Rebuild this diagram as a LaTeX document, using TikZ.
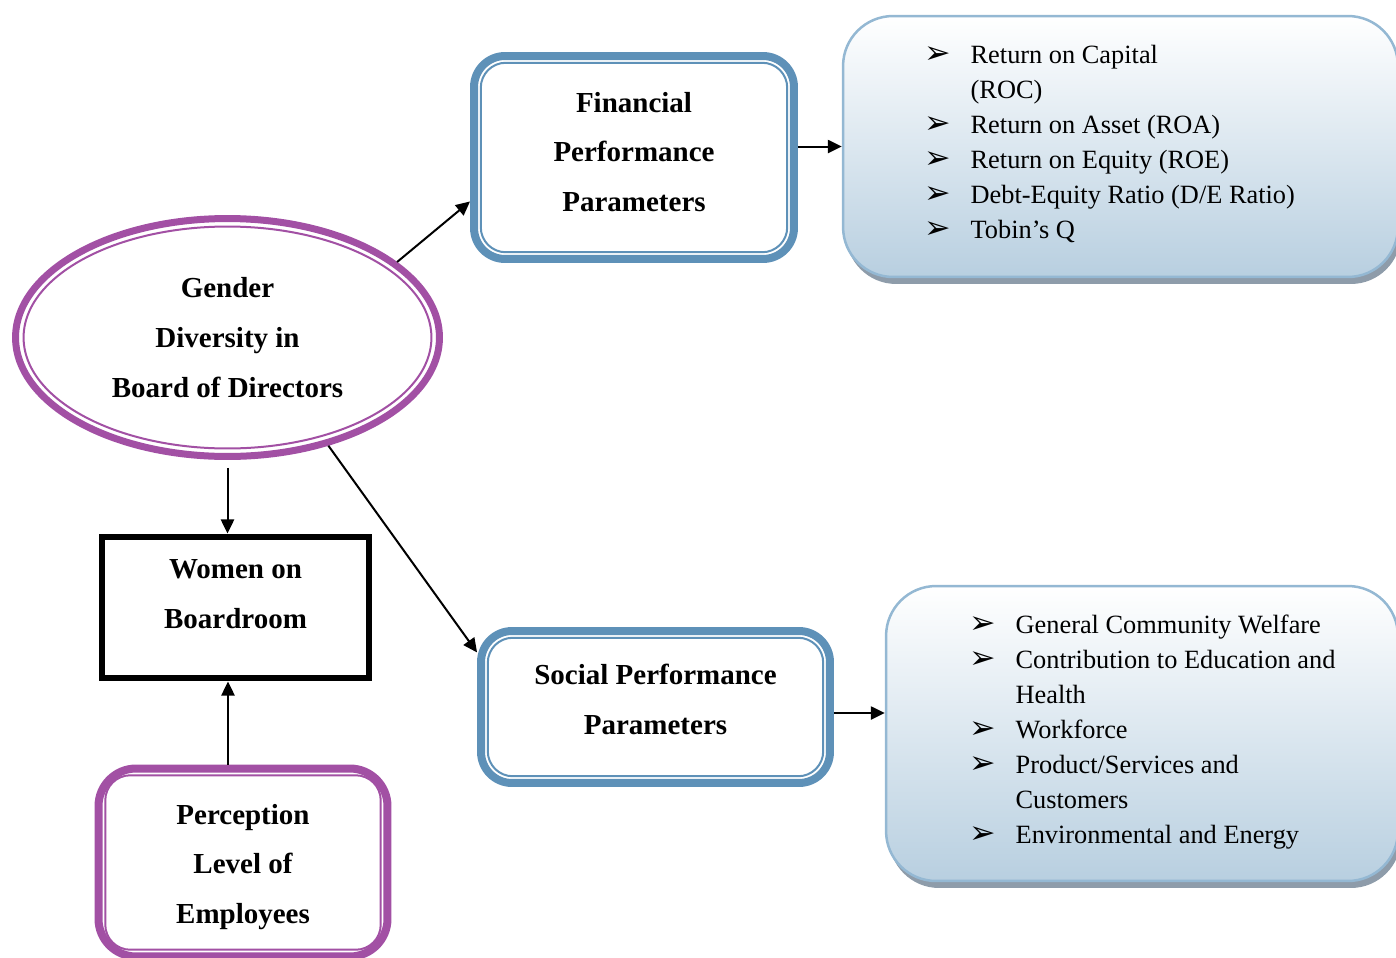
\documentclass[tikz,border=0pt]{standalone}
\usepackage{fontspec}
\setmainfont{Liberation Serif}
\newfontfamily\symfont{DejaVu Sans}
\usetikzlibrary{shapes.geometric,arrows.meta,shadows}

\definecolor{diversitypurple}{RGB}{162,80,164}
\definecolor{paramblue}{RGB}{94,145,184}
\definecolor{listedge}{RGB}{148,184,211}
\definecolor{listfill}{RGB}{184,207,224}
\definecolor{listshadow}{RGB}{142,156,170}

\newcommand{\bul}{\makebox[0.93cm][l]{\fontsize{18pt}{18pt}\symfont ➢}}
\newcommand{\cont}{\hspace*{0.93cm}}

\begin{document}
\begin{tikzpicture}[x=0.02cm, y=-0.02cm,
		heading/.style={font=\fontsize{16.5pt}{28.4pt}\selectfont\bfseries, align=center},
		board/.style={ellipse, draw=diversitypurple, line width=0.14cm, fill=white,
			minimum width=8.48cm, minimum height=4.76cm, inner sep=0pt, heading,
			path picture={\draw[diversitypurple, line width=0.04cm] (path picture bounding box.center) ellipse [x radius=4.08cm, y radius=2.22cm];}},
		roundbox/.style={rectangle, draw=#1, line width=0.16cm, rounded corners=0.62cm, fill=white,
			inner sep=0pt,
			path picture={\draw[#1, line width=0.04cm, rounded corners=0.5cm]
				([shift={(0.135cm,0.135cm)}]path picture bounding box.south west) rectangle
				([shift={(-0.135cm,-0.135cm)}]path picture bounding box.north east);}},
		plainbox/.style={rectangle, draw=black, line width=0.12cm, fill=white,
			minimum width=5.36cm, minimum height=2.84cm},
		itembox/.style={rectangle, draw=listedge, line width=0.05cm, rounded corners=1cm,
			top color=white, bottom color=listfill,
			drop shadow={shadow xshift=0.06cm, shadow yshift=-0.14cm, fill=listshadow, opacity=1}},
		itemtext/.style={anchor=north west, inner sep=0pt, align=left,
			font=\fontsize{15pt}{19.9pt}\selectfont},
		link/.style={-{Triangle[length=8pt,width=7.5pt]}, line width=0.04cm}
		]
	\useasboundingbox (0,0) rectangle (1396,957);

	\node [board] (gender) at (227.5,337.5) {Gender\\Diversity in\\Board of Directors};
	\node [roundbox=paramblue, minimum width=6.4cm, minimum height=4.06cm,
		label={[heading, yshift=0.11cm]center:{Financial\\Performance\\Parameters}}] (fin) at (634,157.5) {};
	\node [roundbox=paramblue, minimum width=6.98cm, minimum height=3.04cm,
		label={[heading, yshift=0.16cm]center:{Social Performance\\Parameters}}] (soc) at (655.5,707) {};
	\node [plainbox, label={[heading, yshift=0.27cm]center:{Women on\\Boardroom}}] (women) at (235.5,607.5) {};
	\node [roundbox=diversitypurple, rounded corners=0.75cm, minimum width=5.78cm, minimum height=3.76cm,
		label={[heading, yshift=-0.09cm]center:{Perception\\Level of\\Employees}}] (perc) at (243,862.5) {};

	\node [itembox, minimum width=11.1cm, minimum height=5.22cm] (finlist) at (1120.5,146.5) {};
	\node [itemtext] (finitems) at ([shift={(82,30)}]finlist.north west)
		{\bul Return on Capital\\ \cont (ROC)\\ \bul Return on Asset (ROA)\\ \bul Return on Equity (ROE)\\
		 \bul Debt-Equity Ratio (D/E Ratio)\\ \bul Tobin’s Q};
	\node [itembox, minimum width=10.24cm, minimum height=5.9cm] (soclist) at (1142,733.5) {};
	\node [itemtext] (socitems) at ([shift={(84,30)}]soclist.north west)
		{\bul General Community Welfare\\ \bul Contribution to Education and\\ \cont Health\\ \bul Workforce\\
		 \bul Product/Services and\\ \cont Customers\\ \bul Environmental and Energy};

	\draw [link] (gender.24) -- (fin.195);
	\draw [link] (fin.east |- finlist.west) -- (finlist.west);
	\draw [link, shorten <=0.16cm] (gender.south) -- (gender.south |- women.north);
	\draw [link] (gender.-47) -- (soc.163);
	\draw [link] ([xshift=-0.3cm]perc.north) -- ([xshift=-0.3cm]perc.north |- women.south);
	\draw [link] ([yshift=-0.12cm]soc.east) -- ([yshift=-0.12cm]soc.east -| soclist.west);
\end{tikzpicture}
\end{document}
